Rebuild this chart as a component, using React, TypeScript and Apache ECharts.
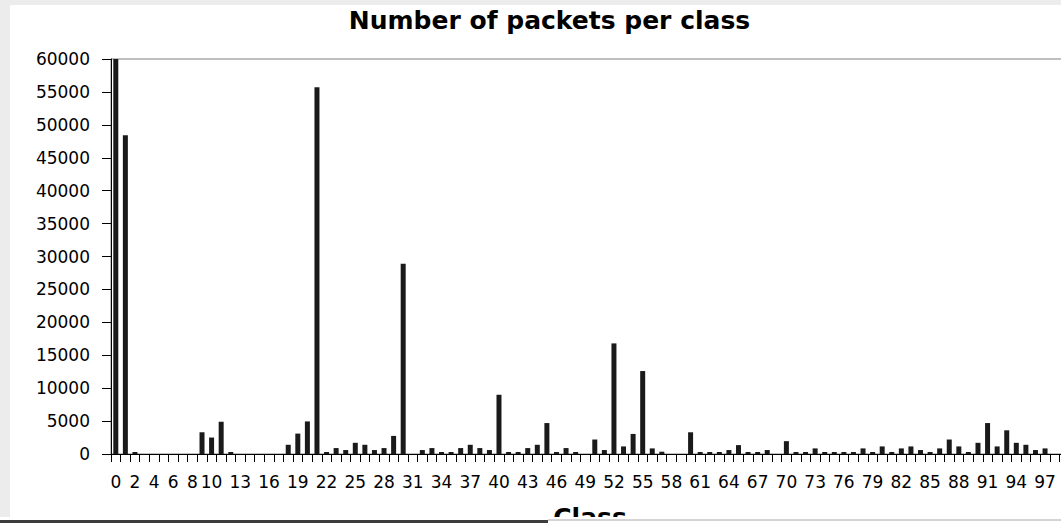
import React, { useEffect, useRef } from "react";
import * as echarts from "echarts";

// Classes 0..99
const classes: string[] = Array.from({ length: 100 }, (_, i) => String(i));

// Number of packets per class
const packets: number[] = [
  60000, 48400, 300, 0, 0, 0, 0, 0, 0, 3300,
  2500, 4900, 300, 0, 0, 0, 0, 0, 1400, 3100,
  4950, 55700, 300, 900, 600, 1700, 1400, 600, 900, 2750,
  28900, 0, 600, 900, 300, 300, 900, 1400, 900, 600,
  9000, 300, 300, 900, 1400, 4700, 300, 900, 300, 0,
  2200, 600, 16800, 1150, 3050, 12600, 850, 350, 0, 0,
  3300, 300, 300, 300, 600, 1350, 300, 300, 600, 0,
  1950, 300, 300, 850, 300, 300, 300, 300, 850, 300,
  1150, 300, 850, 1150, 600, 300, 850, 2200, 1150, 300,
  1700, 4700, 1150, 3600, 1700, 1400, 600, 850, 0, 0,
];

// Category tick labels that are shown on the x axis
const labelledClasses: number[] = [
  0, 2, 4, 6, 8, 10, 13, 16, 19, 22, 25, 28, 31, 34, 37, 40, 43, 46, 49, 52,
  55, 58, 61, 64, 67, 70, 73, 76, 79, 82, 85, 88, 91, 94, 97,
];

const titleText = "Number of packets per class";
const xName = "Class";

export default function App() {
  const ref = useRef<HTMLDivElement>(null);

  useEffect(() => {
    if (!ref.current) return;
    const chart = echarts.init(ref.current, null, { renderer: "svg" });
    const shown = new Set(labelledClasses);
    const labelFont = {
      fontFamily: "DejaVu Sans",
      fontSize: 17,
      color: "#000",
    };
    chart.setOption({
      animation: false,
      backgroundColor: "#ffffff",
      title: {
        text: titleText,
        left: "center",
        top: 8,
        padding: 0,
        textStyle: {
          fontFamily: "DejaVu Sans",
          fontWeight: "bold",
          fontSize: 25,
          color: "#000",
        },
      },
      grid: {
        left: 111,
        right: 30,
        top: 59,
        bottom: 69,
        containLabel: false,
        outerBoundsMode: "none",
        show: true,
        borderColor: "#808080",
        borderWidth: 1,
        backgroundColor: "transparent",
      },
      xAxis: {
        type: "category",
        data: classes,
        boundaryGap: true,
        name: xName,
        nameLocation: "middle",
        nameGap: 51,
        nameTextStyle: {
          fontFamily: "DejaVu Sans",
          fontWeight: "bold",
          fontSize: 25,
          color: "#000",
        },
        axisLine: { show: true, lineStyle: { color: "#000", width: 1 } },
        axisTick: {
          show: true,
          interval: 0,
          length: 8,
          lineStyle: { color: "#000", width: 1 },
        },
        axisLabel: {
          ...labelFont,
          interval: (index: number) => shown.has(index),
          margin: 19,
        },
        splitLine: { show: false },
      },
      yAxis: {
        type: "value",
        min: 0,
        max: 60000,
        interval: 5000,
        axisLine: { show: true, lineStyle: { color: "#000", width: 1 } },
        axisTick: { show: true, length: 9, lineStyle: { color: "#000", width: 1 } },
        axisLabel: { ...labelFont, margin: 21, formatter: (v: number) => String(v) },
        splitLine: { show: false },
      },
      series: [
        {
          type: "bar",
          data: packets,
          barWidth: 5,
          clip: true,
          itemStyle: { color: "#1a1a1a", borderWidth: 0 },
        },
      ],
      graphic: {
        elements: [
          { type: "rect", shape: { x: 0, y: 0, width: 1099, height: 5 }, style: { fill: "#ececec" }, silent: true, z: 50 },
          { type: "rect", shape: { x: 0, y: 0, width: 10, height: 517 }, style: { fill: "#ececec" }, silent: true, z: 50 },
          { type: "rect", shape: { x: 0, y: 517, width: 1099, height: 6 }, style: { fill: "#ffffff" }, silent: true, z: 50 },
          { type: "rect", shape: { x: 0, y: 520, width: 548, height: 3 }, style: { fill: "#3c3c3c" }, silent: true, z: 51 },
          {
            type: "line",
            shape: { x1: 548, y1: 520, x2: 1099, y2: 520 },
            style: { stroke: "#a8a8a8", lineWidth: 1 },
            silent: true,
            z: 51,
          },
        ],
      },
    });
    return () => chart.dispose();
  }, []);

  return (
    <div
      style={{
        position: "fixed",
        left: 0,
        top: 0,
        width: 1061,
        height: 523,
        overflow: "hidden",
        background: "#fff",
      }}
    >
      <div ref={ref} style={{ position: "absolute", left: 0, top: 0, width: 1099, height: 523 }} />
    </div>
  );
}
